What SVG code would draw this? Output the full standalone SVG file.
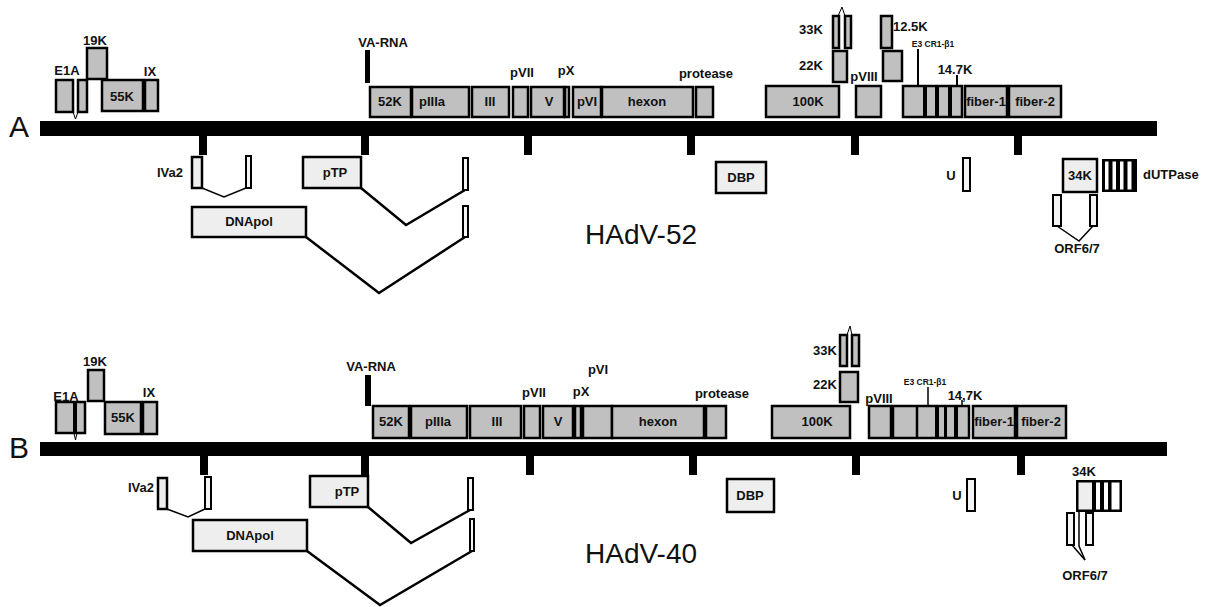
<svg xmlns="http://www.w3.org/2000/svg" width="1213" height="607" viewBox="0 0 1213 607">
<style>
.g{fill:#c0c0c0;stroke:#000;stroke-width:2.5}
.l{fill:#eeeeee;stroke:#000;stroke-width:2.5}
.w{fill:#f4f4f4;stroke:#000;stroke-width:2}
.k{fill:#000}
.wf{fill:#fff}
.lf{fill:#eeeeee}
.t{font-family:"Liberation Sans",Arial,sans-serif;font-size:13px;font-weight:bold;text-anchor:middle;fill:#111}
.ts{font-family:"Liberation Sans",Arial,sans-serif;font-size:8.5px;font-weight:bold;text-anchor:middle;fill:#111}
.big{font-family:"Liberation Sans",Arial,sans-serif;font-size:28px;fill:#111}
.lt{font-family:"Liberation Sans",Arial,sans-serif;font-size:30px;fill:#111}
.sp{fill:none;stroke:#000;stroke-width:2.5;stroke-linejoin:miter}
.sp1{fill:none;stroke:#000;stroke-width:1.5}
.th{fill:none;stroke:#000;stroke-width:1}
.ln{stroke:#000;stroke-width:2}
</style>
<rect width="1213" height="607" fill="#fff"/>

<!-- ================= PANEL A ================= -->
<g id="A-genome">
<text class="lt" x="9" y="137">A</text>
<rect class="k" x="40" y="121" width="1117" height="15"/>
<rect class="k" x="199" y="135" width="8" height="20"/>
<rect class="k" x="361" y="135" width="8" height="20"/>
<rect class="k" x="524" y="135" width="8" height="20"/>
<rect class="k" x="687" y="135" width="8" height="20"/>
<rect class="k" x="851" y="135" width="8" height="20"/>
<rect class="k" x="1014" y="135" width="8" height="20"/>
</g>
<g id="A-E1A"><rect class="g" x="56" y="80" width="17" height="32"/><rect class="g" x="78" y="80" width="9" height="32"/><text class="t" x="67" y="75">E1A</text></g>
<g id="A-19K"><rect class="g" x="87" y="48" width="20" height="31"/><text class="t" x="95" y="45">19K</text></g>
<g id="A-55K"><rect class="g" x="102" y="80" width="41" height="31"/><text class="t" x="122" y="101">55K</text></g>
<g id="A-IX"><rect class="g" x="145" y="80" width="13" height="31"/><text class="t" x="150" y="76">IX</text></g>
<g id="A-VA-RNA"><rect class="k" x="365" y="50" width="5" height="33"/><text class="t" x="383" y="47">VA-RNA</text></g>
<g id="A-52K"><rect class="g" x="370" y="87" width="41" height="30"/><text class="t" x="390" y="106">52K</text></g>
<g id="A-pIIIa"><rect class="g" x="412" y="87" width="57" height="30"/><text class="t" x="432" y="106">pIIIa</text></g>
<g id="A-III"><rect class="g" x="472" y="87" width="37" height="30"/><text class="t" x="490" y="106">III</text></g>
<g id="A-pVII"><rect class="g" x="513" y="87" width="15" height="30"/><text class="t" x="522" y="77">pVII</text></g>
<g id="A-V"><rect class="g" x="531" y="87" width="33" height="30"/><text class="t" x="549" y="106">V</text></g>
<g id="A-pX"><rect class="g" x="565" y="87" width="4" height="30"/><text class="t" x="566" y="75">pX</text></g>
<g id="A-pVI"><rect class="g" x="573" y="87" width="28" height="30"/><text class="t" x="587" y="106">pVI</text></g>
<g id="A-hexon"><rect class="g" x="602" y="87" width="91" height="30"/><text class="t" x="647" y="106">hexon</text></g>
<g id="A-protease"><rect class="g" x="696" y="87" width="17" height="30"/><text class="t" x="706" y="78">protease</text></g>
<g id="A-100K"><rect class="g" x="766" y="86" width="73" height="31"/><text class="t" x="808" y="106">100K</text></g>
<g id="A-33K"><rect class="g" x="833" y="16" width="6" height="32"/><rect class="g" x="845" y="16" width="6" height="32"/><polyline class="th" points="838,16 842,7 845,16"/><text class="t" x="811" y="34">33K</text></g>
<g id="A-22K"><rect class="g" x="833" y="51" width="14" height="31"/><text class="t" x="811" y="70">22K</text></g>
<g id="A-12.5K"><rect class="g" x="881" y="16" width="11" height="32"/><rect class="g" x="883" y="51" width="19" height="30"/><text class="t" x="893" y="31" style="text-anchor:start">12.5K</text></g>
<g id="A-pVIII"><rect class="g" x="856" y="86" width="25" height="31"/><text class="t" x="864" y="81">pVIII</text></g>
<g id="A-E3">
<rect class="g" x="903" y="86" width="59" height="31"/>
<rect class="k" x="923" y="86" width="4" height="31"/>
<rect class="k" x="935" y="86" width="4" height="31"/>
<rect class="k" x="948" y="86" width="4" height="31"/>
<line class="ln" x1="918" y1="49" x2="918" y2="86"/>
<text class="ts" x="933" y="47">E3 CR1-β1</text>
<line class="ln" x1="957" y1="75" x2="957" y2="86"/>
<text class="t" x="955" y="74">14.7K</text>
</g>
<g id="A-fiber-1"><rect class="g" x="965" y="86" width="42" height="31"/><text class="t" x="986" y="106">fiber-1</text></g>
<g id="A-fiber-2"><rect class="g" x="1009" y="86" width="52" height="31"/><text class="t" x="1035" y="106">fiber-2</text></g>
<g id="A-IVa2"><rect class="l" x="192" y="157" width="10" height="31"/><rect class="w" x="246" y="156" width="5" height="32"/><text class="t" x="170" y="177">IVa2</text></g>
<g id="A-pTP"><rect class="l" x="303" y="157" width="58" height="31"/><rect class="w" x="463" y="158" width="5" height="32"/><text class="t" x="335" y="177">pTP</text></g>
<g id="A-DNApol"><rect class="l" x="192" y="207" width="114" height="30"/><rect class="w" x="463" y="206" width="5" height="31"/><text class="t" x="249" y="226">DNApol</text></g>
<g id="A-DBP"><rect class="l" x="716" y="162" width="50" height="31"/><text class="t" x="741" y="182">DBP</text></g>
<g id="A-U"><rect class="w" x="963" y="158" width="7" height="33"/><text class="t" x="951" y="180">U</text></g>
<g id="A-34K"><rect class="l" x="1063" y="159" width="34" height="33"/><text class="t" x="1080" y="180">34K</text></g>
<g id="A-dUTPase">
<rect class="k" x="1102" y="159" width="35" height="33"/>
<rect class="wf" x="1105" y="161.5" width="3.5" height="28"/>
<rect class="wf" x="1112.5" y="161.5" width="3.5" height="28"/>
<rect class="wf" x="1120" y="161.5" width="3.5" height="28"/>
<rect class="wf" x="1127.5" y="161.5" width="4" height="28"/>
<text class="t" x="1143" y="179" style="text-anchor:start">dUTPase</text>
</g>
<g id="A-ORF6-7"><rect class="w" x="1053" y="195" width="8" height="31"/><rect class="w" x="1090" y="195" width="7" height="31"/><text class="t" x="1077" y="253">ORF6/7</text></g>
<text class="big" x="585" y="244">HAdV-52</text>

<!-- ================= PANEL B ================= -->
<g id="B-genome">
<text class="lt" x="9" y="458">B</text>
<rect class="k" x="40" y="442" width="1127" height="14"/>
<rect class="k" x="200" y="455" width="8" height="20"/>
<rect class="k" x="361" y="455" width="8" height="20"/>
<rect class="k" x="526" y="455" width="8" height="20"/>
<rect class="k" x="689" y="455" width="8" height="20"/>
<rect class="k" x="852" y="455" width="8" height="20"/>
<rect class="k" x="1017" y="455" width="8" height="20"/>
</g>
<g id="B-E1A"><rect class="g" x="56" y="402" width="29" height="31"/><rect class="k" x="73" y="402" width="4" height="31"/><text class="t" x="66" y="401">E1A</text></g>
<g id="B-19K"><rect class="g" x="88" y="370" width="16" height="31"/><text class="t" x="95" y="366">19K</text></g>
<g id="B-55K"><rect class="g" x="105" y="402" width="36" height="32"/><text class="t" x="123" y="422">55K</text></g>
<g id="B-IX"><rect class="g" x="143" y="402" width="14" height="32"/><text class="t" x="149" y="397">IX</text></g>
<g id="B-VA-RNA"><rect class="k" x="365" y="375" width="6" height="31"/><text class="t" x="371" y="371">VA-RNA</text></g>
<g id="B-52K"><rect class="g" x="373" y="406" width="36" height="32"/><text class="t" x="391" y="426">52K</text></g>
<g id="B-pIIIa"><rect class="g" x="411" y="406" width="56" height="32"/><text class="t" x="438" y="426">pIIIa</text></g>
<g id="B-III"><rect class="g" x="470" y="406" width="51" height="32"/><text class="t" x="497" y="426">III</text></g>
<g id="B-pVII"><rect class="g" x="524" y="406" width="16" height="32"/><text class="t" x="534" y="397">pVII</text></g>
<g id="B-V"><rect class="g" x="543" y="406" width="30" height="32"/><text class="t" x="558" y="426">V</text></g>
<g id="B-pX"><rect class="g" x="575" y="406" width="6" height="32"/><text class="t" x="581" y="396">pX</text></g>
<g id="B-pVI"><rect class="g" x="583" y="406" width="29" height="32"/><text class="t" x="598" y="374">pVI</text></g>
<g id="B-hexon"><rect class="g" x="612" y="406" width="92" height="32"/><text class="t" x="658" y="426">hexon</text></g>
<g id="B-protease"><rect class="g" x="706" y="406" width="20" height="32"/><text class="t" x="722" y="398">protease</text></g>
<g id="B-100K"><rect class="g" x="772" y="406" width="78" height="32"/><text class="t" x="817" y="426">100K</text></g>
<g id="B-33K"><rect class="g" x="840" y="335" width="7" height="31"/><rect class="g" x="852" y="335" width="7" height="31"/><polyline class="th" points="847,335 850,326 852,335"/><text class="t" x="825" y="355">33K</text></g>
<g id="B-22K"><rect class="g" x="840" y="372" width="18" height="30"/><text class="t" x="825" y="389">22K</text></g>
<g id="B-pVIII"><rect class="g" x="869" y="406" width="22" height="32"/><text class="t" x="879" y="403">pVIII</text></g>
<g id="B-E3">
<rect class="g" x="893" y="406" width="76" height="32"/>
<line class="ln" x1="917" y1="406" x2="917" y2="438" style="stroke-width:2.5"/>
<rect class="k" x="935" y="406" width="4" height="32"/>
<rect class="k" x="944" y="406" width="3" height="32"/>
<rect class="k" x="954" y="406" width="4" height="32"/>
<line class="ln" x1="928" y1="387" x2="928" y2="406" style="stroke-width:1.5"/>
<text class="ts" x="925" y="385">E3 CR1-β1</text>
<line class="ln" x1="962" y1="400" x2="962" y2="406" style="stroke-width:1.5"/>
<text class="t" x="965" y="400">14,7K</text>
</g>
<g id="B-fiber-1"><rect class="g" x="973" y="406" width="42" height="32"/><text class="t" x="994" y="426">fiber-1</text></g>
<g id="B-fiber-2"><rect class="g" x="1017" y="406" width="49" height="32"/><text class="t" x="1041" y="426">fiber-2</text></g>
<g id="B-IVa2"><rect class="l" x="158" y="478" width="9" height="31"/><rect class="w" x="205" y="477" width="6" height="32"/><text class="t" x="141" y="492">IVa2</text></g>
<g id="B-pTP"><rect class="l" x="310" y="476" width="58" height="31"/><rect class="w" x="468" y="478" width="5" height="32"/><text class="t" x="347" y="496">pTP</text></g>
<g id="B-DNApol"><rect class="l" x="193" y="520" width="114" height="31"/><rect class="w" x="470" y="519" width="4" height="32"/><text class="t" x="250" y="540">DNApol</text></g>
<g id="B-DBP"><rect class="l" x="727" y="479" width="47" height="33"/><text class="t" x="750" y="500">DBP</text></g>
<g id="B-U"><rect class="w" x="967" y="479" width="8" height="32"/><text class="t" x="957" y="500">U</text></g>
<g id="B-34K">
<rect class="k" x="1076" y="480" width="46" height="32"/>
<rect class="lf" x="1078.5" y="482.5" width="13.5" height="27"/>
<rect class="wf" x="1096" y="482.5" width="4" height="27"/>
<rect class="wf" x="1104" y="482.5" width="4" height="27"/>
<rect class="wf" x="1111.5" y="482.5" width="8" height="27"/>
<text class="t" x="1084" y="476">34K</text>
</g>
<g id="B-ORF6-7"><rect class="w" x="1067" y="513" width="7" height="32"/><rect class="w" x="1086" y="513" width="7" height="32"/><text class="t" x="1085" y="580">ORF6/7</text></g>
<text class="big" x="585" y="563">HAdV-40</text>

<!-- ================= connectors (splices) ================= -->
<g id="connectors">
<polyline class="th" points="73,112 75.5,119 78,112"/>
<polyline class="th" points="74,433 75.5,440 77,433"/>
<polyline class="sp1" points="202,188 224,197 246,188"/>
<polyline class="sp" points="361,188 406,225 465,190"/>
<polyline class="sp" points="306,237 379,293 465,237"/>
<polyline class="sp1" points="1057,226 1079,241 1093,226"/>
<polyline class="sp1" points="167,509 188,517 205,509"/>
<polyline class="sp" points="368,507 411,543 470,510"/>
<polyline class="sp" points="307,551 380,605 472,551"/>
<polyline class="sp1" points="1072,545 1085,560"/>
<polyline class="sp1" points="1079,512 1079,546 1085,560"/>
</g>
</svg>
